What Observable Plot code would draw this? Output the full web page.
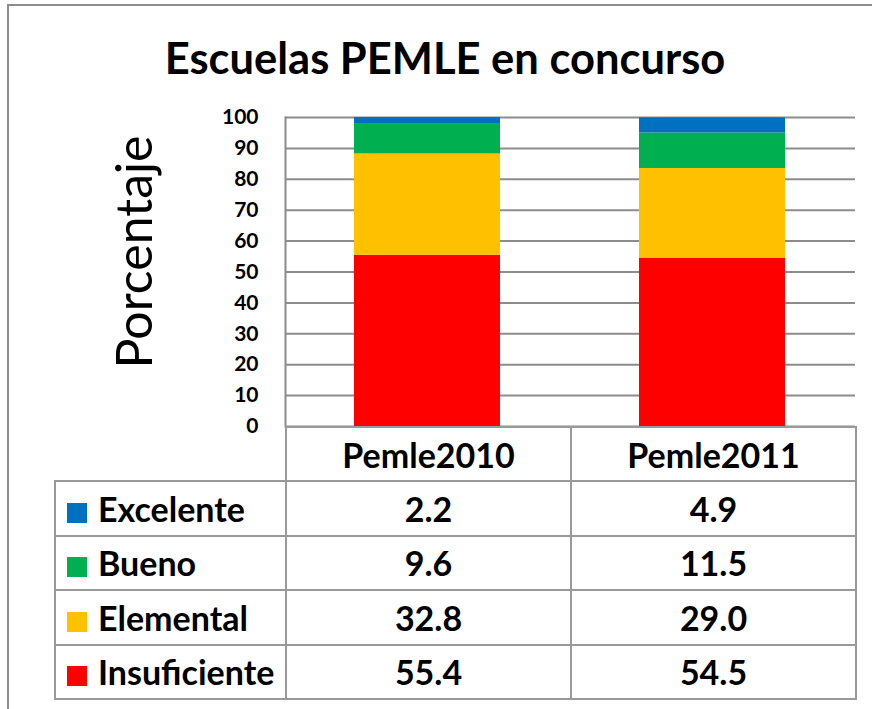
<!DOCTYPE html>
<html>
<head>
<meta charset="utf-8">
<script src="https://cdn.jsdelivr.net/npm/d3@7"></script>
<script src="https://cdn.jsdelivr.net/npm/@observablehq/plot@0.6"></script>
<style>
  html, body { margin: 0; padding: 0; background: #fff; }
  #chart { position: relative; width: 872px; height: 709px; overflow: hidden; font-family: Lato, "Open Sans", sans-serif; }
  #frame { position: absolute; left: 7px; top: 4px; width: 900px; height: 800px; border-left: 2px solid #8c8c8c; border-top: 2px solid #8c8c8c; }
  #title { position: absolute; left: 0; width: 890px; top: 29px; text-align: center; font-weight: bold; font-size: 43.5px; line-height: 56px; color: #000; white-space: nowrap; }
  #ylabel { position: absolute; left: 133px; top: 252px; transform: translate(-50%, -50%) rotate(-90deg); font-size: 50px; line-height: 50px; white-space: nowrap; color: #000; }
  #plot { position: absolute; left: 0; top: 0; }
  #tbl { position: absolute; left: 54px; top: 426px; border-collapse: collapse; table-layout: fixed; width: 802px; }
  #tbl tr { height: 54.4px; }
  #tbl td { border: 2px solid #999; padding: 0; font-weight: bold; font-size: 34px; color: #000; text-align: center; white-space: nowrap; overflow: hidden; }
  #tbl td.blank { border-left: none; border-top: none; }
  #tbl td.lab { text-align: left; padding-left: 11px; }
  #tbl .key { display: inline-block; width: 20px; height: 20px; margin-right: 11px; vertical-align: -1px; }
</style>
</head>
<body>
<div id="chart">
  <div id="frame"></div>
  <div id="title"></div>
  <div id="ylabel"></div>
  <div id="plot"></div>
  <table id="tbl"></table>
</div>
<script>
const titleText = "Escuelas PEMLE en concurso";
const yLabel = "Porcentaje";
const periods = ["Pemle2010", "Pemle2011"];
const levels = ["Excelente", "Bueno", "Elemental", "Insuficiente"];
const levelColors = ["#0070C0", "#00B050", "#FFC000", "#FF0000"];
const excelente = [2.2, 4.9];
const bueno = [9.6, 11.5];
const elemental = [32.8, 29.0];
const insuficiente = [55.4, 54.5];
const yTicks = [0, 10, 20, 30, 40, 50, 60, 70, 80, 90, 100];

const seriesValues = {Excelente: excelente, Bueno: bueno, Elemental: elemental, Insuficiente: insuficiente};

// stacking order: Insuficiente at bottom
const stackOrder = ["Insuficiente", "Elemental", "Bueno", "Excelente"];
const rows = [];
for (const lev of stackOrder) {
  periods.forEach((p, i) => rows.push({period: p, level: lev, value: seriesValues[lev][i]}));
}

document.getElementById("title").textContent = titleText;
document.getElementById("ylabel").textContent = yLabel;

const plot = Plot.plot({
  width: 872,
  height: 430,
  marginTop: 117,
  marginBottom: 4,
  marginLeft: 285,
  marginRight: 17,
  style: {fontFamily: "Lato, sans-serif", fontSize: "21px", fontWeight: "bold", color: "#000", background: "transparent", overflow: "visible"},
  x: {domain: periods, paddingInner: 0.486, paddingOuter: 0.243, axis: null},
  y: {domain: [0, 100], ticks: yTicks, label: null},
  color: {domain: levels, range: levelColors},
  marks: [
    Plot.gridY(yTicks, {stroke: "#8c8c8c", strokeOpacity: 1, strokeWidth: 2}),
    Plot.barY(rows, Plot.stackY({x: "period", y: "value", fill: "level", order: null})),
    Plot.frame({anchor: "left", stroke: "#8c8c8c", strokeWidth: 2}),
    Plot.axisY(yTicks, {tickSize: 0, tickPadding: 27, fontSize: 21, fontWeight: "bold", fill: "#000", label: null})
  ]
});
document.getElementById("plot").appendChild(plot);

// data table aligned with the band scale columns
const xs = plot.scale("x");
const colW = xs.step;
const tbl = document.getElementById("tbl");
const cg = document.createElement("colgroup");
[285 - 54, colW, colW].forEach(w => {
  const c = document.createElement("col");
  c.style.width = w + "px";
  cg.appendChild(c);
});
tbl.appendChild(cg);
const hdr = document.createElement("tr");
const blank = document.createElement("td");
blank.className = "blank";
hdr.appendChild(blank);
periods.forEach(p => {
  const td = document.createElement("td");
  td.textContent = p;
  hdr.appendChild(td);
});
tbl.appendChild(hdr);
levels.forEach((lev, k) => {
  const tr = document.createElement("tr");
  const lab = document.createElement("td");
  lab.className = "lab";
  const key = document.createElement("span");
  key.className = "key";
  key.style.background = levelColors[k];
  lab.appendChild(key);
  lab.appendChild(document.createTextNode(lev));
  tr.appendChild(lab);
  seriesValues[lev].forEach(v => {
    const td = document.createElement("td");
    td.textContent = v.toFixed(1);
    tr.appendChild(td);
  });
  tbl.appendChild(tr);
});
</script>
</body>
</html>
